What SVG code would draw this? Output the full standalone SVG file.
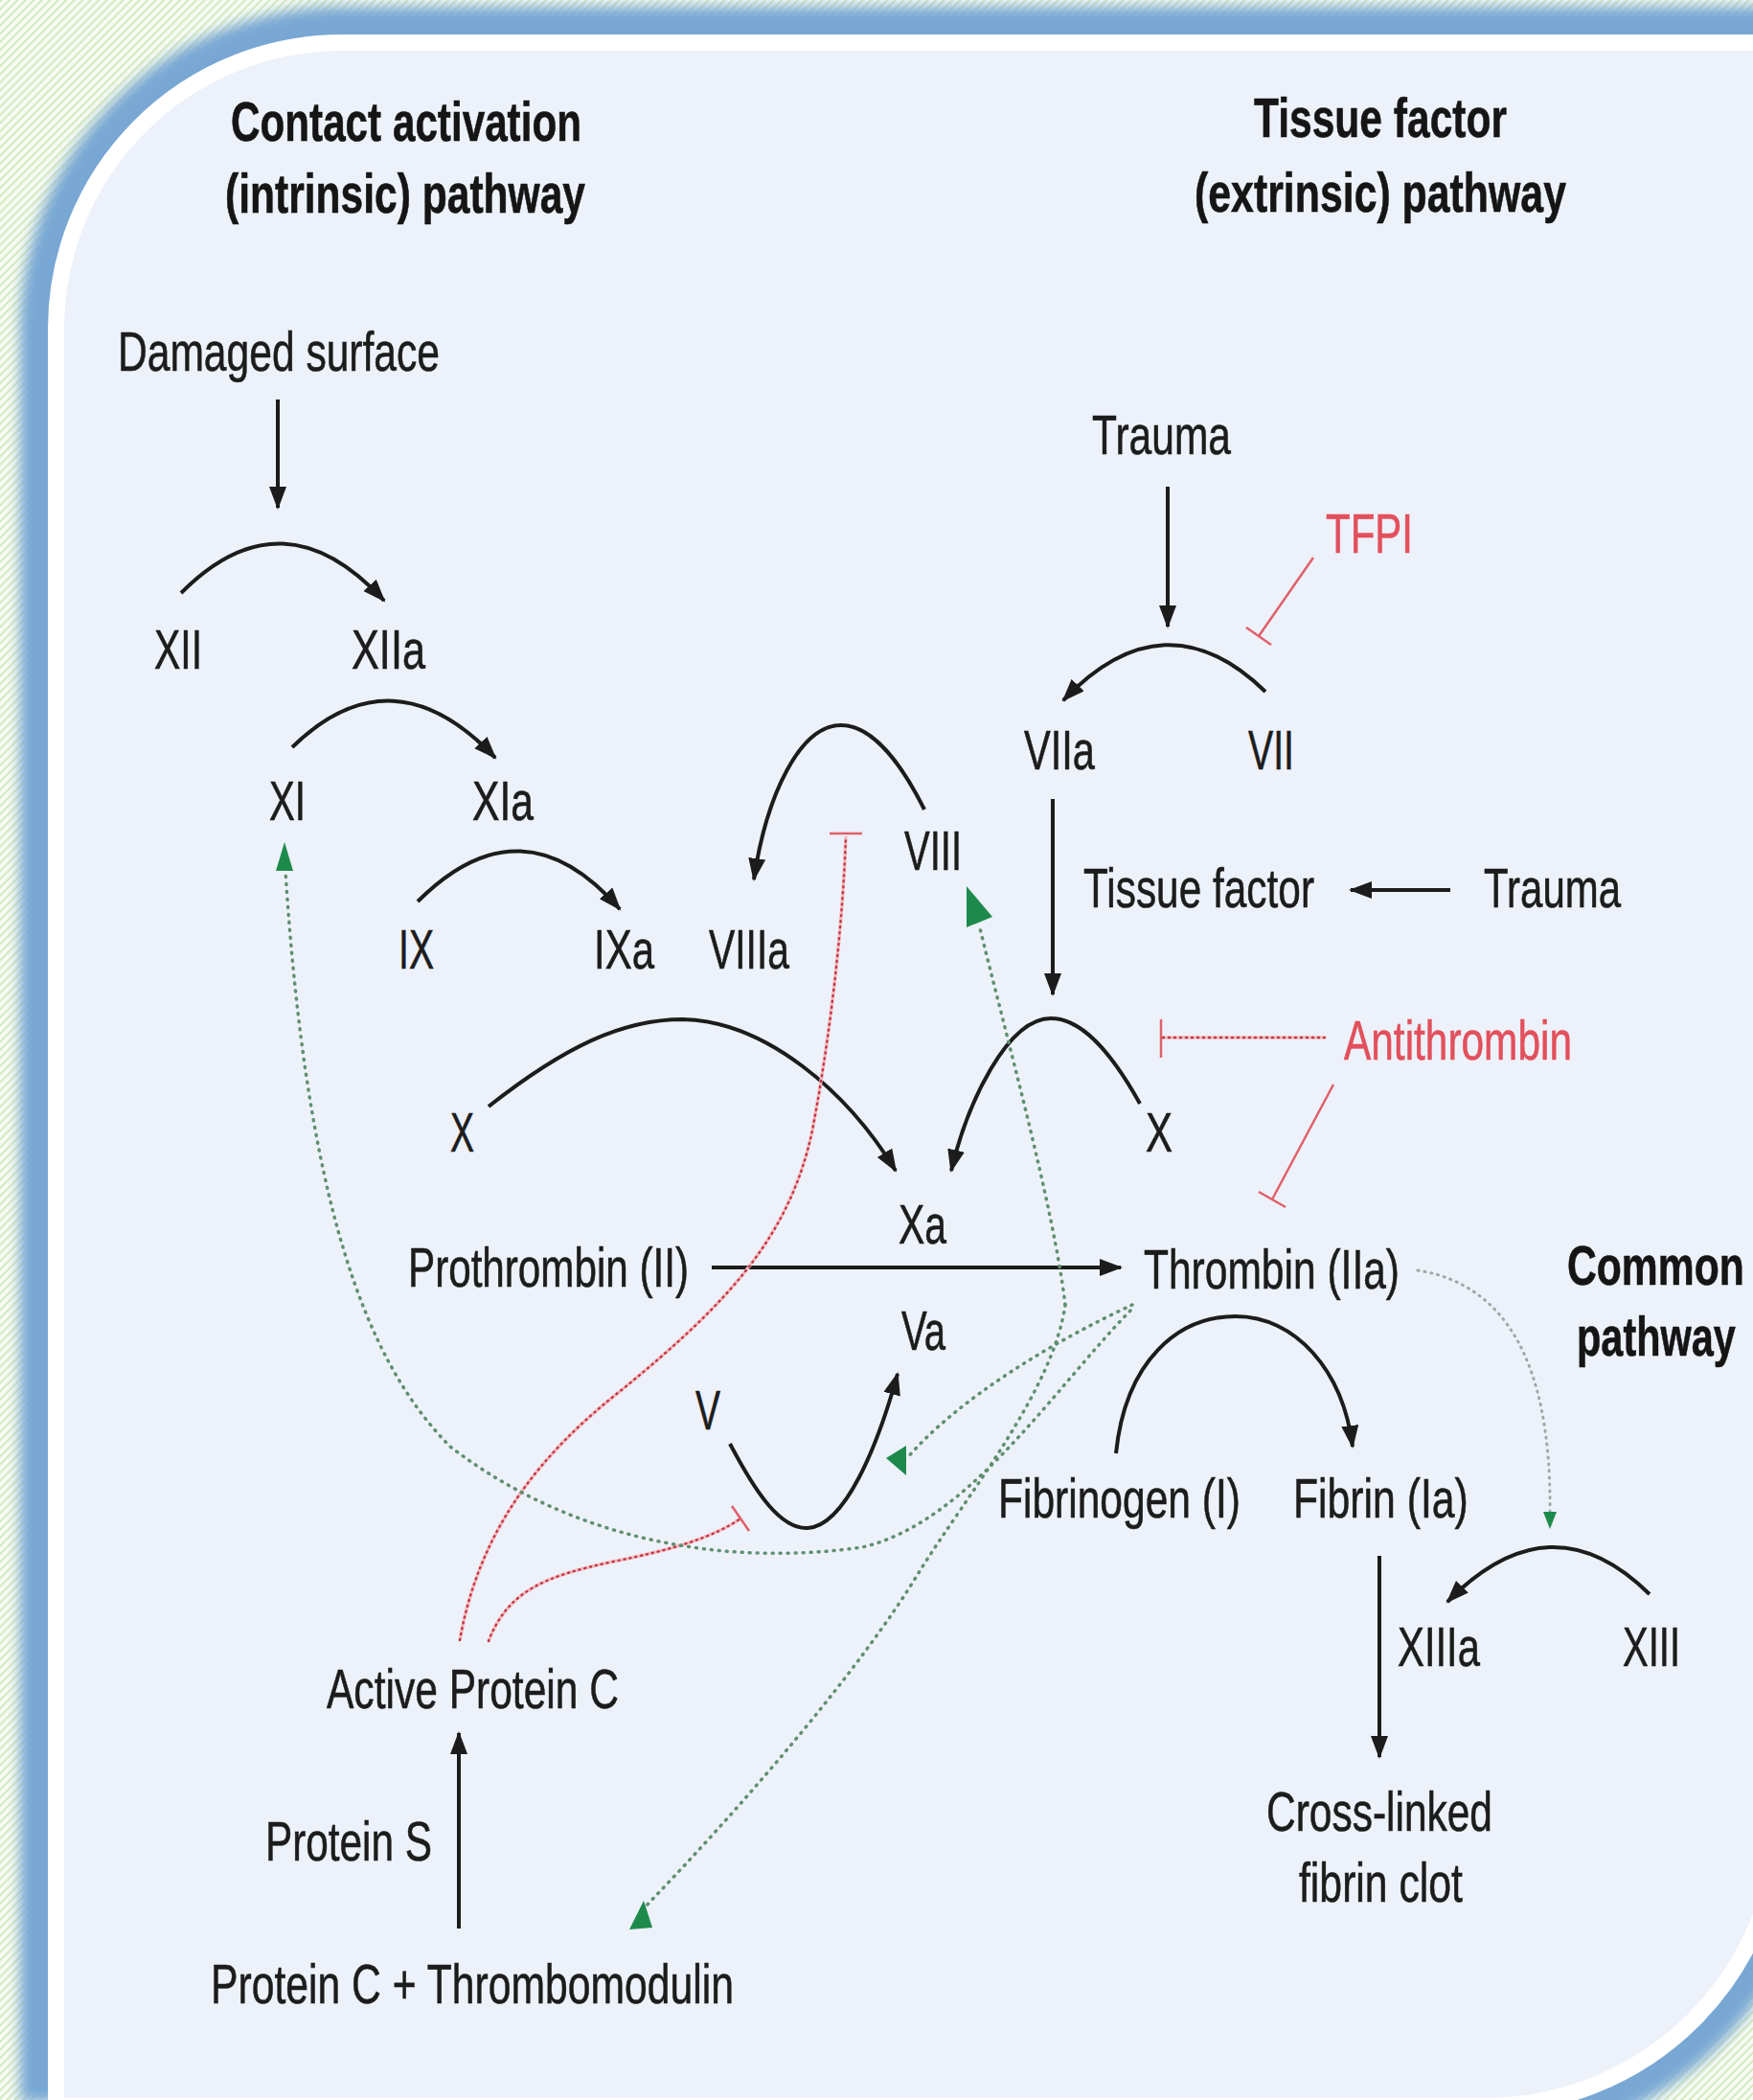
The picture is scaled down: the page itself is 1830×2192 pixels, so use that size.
<svg xmlns="http://www.w3.org/2000/svg" width="1830" height="2192" viewBox="0 0 1830 2192">
<defs>
  <pattern id="stripes" width="6" height="6" patternUnits="userSpaceOnUse" patternTransform="rotate(45)">
    <rect width="6" height="6" fill="#f7fbf2"/>
    <rect width="2" height="6" fill="#d3eabf"/>
  </pattern>
  <filter id="glow" x="-5%" y="-5%" width="110%" height="110%">
    <feGaussianBlur stdDeviation="7"/>
  </filter>
  <marker id="ah" markerUnits="userSpaceOnUse" markerWidth="26" markerHeight="20" refX="22" refY="9" orient="auto">
    <path d="M0,0 L24,9 L0,18 Z" fill="#1c1c1c"/>
  </marker>
  <path id="panel" d="M67,2194 L67,343 A290,290 0 0 1 357,53 L1850,53 L1850,1890 A300,300 0 0 1 1550,2190 L67,2190 Z"/>
</defs>
<style>
  .lbl { font-family: "Liberation Sans", Arial, Helvetica, sans-serif; font-size: 58px; fill: #1c1c1c; stroke: #1c1c1c; stroke-width: 0.6; }
  .ttl { font-weight: bold; fill: #151515; stroke: #151515; }
  .red { fill: #e2505c; stroke: #e2505c; }
  .arw { fill: none; stroke: #1c1c1c; stroke-width: 4; marker-end: url(#ah); }
  .inh { fill: none; stroke: #e0606a; stroke-width: 2.5; }
  .inhbase { fill: none; stroke: #f3bcc0; stroke-width: 3.5; }
  .inhdot { fill: none; stroke: #c23848; stroke-width: 2.5; stroke-dasharray: 1 5; stroke-linecap: round; }
  .grn { fill: none; stroke: #5f8f70; stroke-width: 3.5; stroke-dasharray: 1 7; stroke-linecap: round; }
  .gry { fill: none; stroke: #9aaaa4; stroke-width: 3; stroke-dasharray: 1 6; stroke-linecap: round; }
  .gah { fill: #1d8a4c; }
</style>

<!-- background -->
<g id="background">
  <rect x="0" y="0" width="1830" height="2192" fill="url(#stripes)"/>
  <use href="#panel" fill="none" stroke="#78a7d4" stroke-width="92" filter="url(#glow)"/>
  <use href="#panel" fill="none" stroke="#ffffff" stroke-width="34"/>
  <use href="#panel" fill="#edf1f9"/>
</g>

<!-- connectors -->
<g id="connectors">
  <!-- black activation arrows -->
  <path class="arw" d="M290,417 L290,530"/>
  <path class="arw" d="M189,619 Q295,512 401,627"/>
  <path class="arw" d="M305,780 Q410,678 517,791"/>
  <path class="arw" d="M436,941 Q545,832 647,949"/>
  <path class="arw" d="M965,845 C935,785 905,757 878,757 C835,757 800,830 787,918"/>
  <path class="arw" d="M1321,722 Q1216,620 1110,731"/>
  <path class="arw" d="M1219,508 L1219,654"/>
  <path class="arw" d="M1514,929 L1410,929"/>
  <path class="arw" d="M1099,834 L1099,1038"/>
  <path class="arw" d="M1190,1152 C1150,1080 1120,1063 1097,1063 C1052,1063 1010,1150 993,1222"/>
  <path class="arw" d="M510,1155 C590,1092 650,1064 713,1064 C800,1066 885,1140 935,1222"/>
  <path class="arw" d="M743,1323 L1170,1323"/>
  <path class="arw" d="M762,1507 C790,1560 815,1596 843,1595 C882,1593 916,1510 937,1434"/>
  <path class="arw" d="M1165,1517 C1175,1420 1230,1374 1290,1374 C1352,1374 1402,1430 1412,1510"/>
  <path class="arw" d="M1440,1624 L1440,1834"/>
  <path class="arw" d="M1722,1664 Q1619,1562 1511,1672"/>
  <path class="arw" d="M479,2013 L479,1809"/>

  <!-- red inhibition -->
  <path class="inh" d="M1371,582 L1314,664 M1301,655 L1327,673"/>
  <path class="inhbase" d="M1383,1083 L1212,1083"/>
  <path class="inhdot" d="M1383,1083 L1212,1083"/>
  <path class="inh" d="M1212,1064 L1212,1104"/>
  <path class="inh" d="M1392,1132 L1328,1252 M1314,1244 L1342,1260"/>
  <path class="inhbase" d="M480,1712 C500,1600 560,1520 650,1450 C760,1360 825,1290 848,1180 C868,1075 880,960 883,873"/>
  <path class="inhdot" d="M480,1712 C500,1600 560,1520 650,1450 C760,1360 825,1290 848,1180 C868,1075 880,960 883,873"/>
  <path class="inh" d="M866,870 L900,870"/>
  <path class="inhbase" d="M510,1713 C530,1660 570,1645 640,1630 C700,1618 745,1605 773,1585"/>
  <path class="inhdot" d="M510,1713 C530,1660 570,1645 640,1630 C700,1618 745,1605 773,1585"/>
  <path class="inh" d="M764,1572 L782,1598"/>

  <!-- green thrombin feedback -->
  <path class="grn" d="M1180,1368 C1100,1450 1010,1590 900,1615 C760,1635 600,1610 470,1510 C380,1420 320,1250 298,910"/>
  <path class="grn" d="M1182,1362 C1100,1400 1000,1460 947,1522"/>
  <path class="grn" d="M1112,1362 C1100,1260 1050,1080 1022,965"/>
  <path class="grn" d="M1112,1362 C1100,1450 1010,1560 960,1640 C900,1740 780,1880 672,1992"/>
  <path class="gry" d="M1480,1326 C1570,1340 1620,1420 1618,1580"/>
  <polygon class="gah" points="288,909 306,909 297,879"/>
  <polygon class="gah" points="1009,925 1036,957 1009,968"/>
  <polygon class="gah" points="925,1522 946,1509 946,1540"/>
  <polygon class="gah" points="657,2014 681,2012 672,1984"/>
  <polygon class="gah" points="1611,1578 1625,1578 1618,1596"/>
</g>

<!-- titles -->
<g id="title-intrinsic">
  <text class="lbl ttl" x="241" y="147" textLength="366" lengthAdjust="spacingAndGlyphs">Contact activation</text>
  <text class="lbl ttl" x="235" y="222" textLength="376" lengthAdjust="spacingAndGlyphs">(intrinsic) pathway</text>
</g>
<g id="title-extrinsic">
  <text class="lbl ttl" x="1309" y="143" textLength="264" lengthAdjust="spacingAndGlyphs">Tissue factor</text>
  <text class="lbl ttl" x="1247" y="221" textLength="388" lengthAdjust="spacingAndGlyphs">(extrinsic) pathway</text>
</g>
<g id="title-common">
  <text class="lbl ttl" transform="translate(1636,1341) scale(0.736,1)" x="0" y="0" textLength="251" lengthAdjust="spacingAndGlyphs">Common</text>
  <text class="lbl ttl" transform="translate(1646,1415) scale(0.715,1)" x="0" y="0" textLength="232" lengthAdjust="spacingAndGlyphs">pathway</text>
</g>

<!-- nodes -->
<g id="n-damaged"><text class="lbl" x="123" y="387" textLength="336" lengthAdjust="spacingAndGlyphs">Damaged surface</text></g>
<g id="n-xii"><text class="lbl" x="161" y="698" textLength="50" lengthAdjust="spacingAndGlyphs">XII</text></g>
<g id="n-xiia"><text class="lbl" x="367" y="698" textLength="77" lengthAdjust="spacingAndGlyphs">XIIa</text></g>
<g id="n-xi"><text class="lbl" x="281" y="856" textLength="38" lengthAdjust="spacingAndGlyphs">XI</text></g>
<g id="n-xia"><text class="lbl" x="493" y="856" textLength="64" lengthAdjust="spacingAndGlyphs">XIa</text></g>
<g id="n-ix"><text class="lbl" x="416" y="1011" textLength="37" lengthAdjust="spacingAndGlyphs">IX</text></g>
<g id="n-ixa"><text class="lbl" x="620" y="1011" textLength="63" lengthAdjust="spacingAndGlyphs">IXa</text></g>
<g id="n-viiia"><text class="lbl" x="740" y="1011" textLength="84" lengthAdjust="spacingAndGlyphs">VIIIa</text></g>
<g id="n-viii"><text class="lbl" x="944" y="908" textLength="60" lengthAdjust="spacingAndGlyphs">VIII</text></g>
<g id="n-viia"><text class="lbl" x="1069" y="803" textLength="74" lengthAdjust="spacingAndGlyphs">VIIa</text></g>
<g id="n-vii"><text class="lbl" x="1303" y="803" textLength="48" lengthAdjust="spacingAndGlyphs">VII</text></g>
<g id="n-trauma1"><text class="lbl" x="1140" y="474" textLength="145" lengthAdjust="spacingAndGlyphs">Trauma</text></g>
<g id="n-tfpi"><text class="lbl red" x="1384" y="577" textLength="91" lengthAdjust="spacingAndGlyphs">TFPI</text></g>
<g id="n-tissuefactor"><text class="lbl" x="1131" y="947" textLength="241" lengthAdjust="spacingAndGlyphs">Tissue factor</text></g>
<g id="n-trauma2"><text class="lbl" x="1549" y="947" textLength="143" lengthAdjust="spacingAndGlyphs">Trauma</text></g>
<g id="n-antithrombin"><text class="lbl red" x="1403" y="1106" textLength="238" lengthAdjust="spacingAndGlyphs">Antithrombin</text></g>
<g id="n-x1"><text class="lbl" x="470" y="1202" textLength="25" lengthAdjust="spacingAndGlyphs">X</text></g>
<g id="n-x2"><text class="lbl" x="1196" y="1202" textLength="28" lengthAdjust="spacingAndGlyphs">X</text></g>
<g id="n-xa"><text class="lbl" x="938" y="1298" textLength="50" lengthAdjust="spacingAndGlyphs">Xa</text></g>
<g id="n-prothrombin"><text class="lbl" x="426" y="1343" textLength="293" lengthAdjust="spacingAndGlyphs">Prothrombin (II)</text></g>
<g id="n-thrombin"><text class="lbl" x="1194" y="1345" textLength="267" lengthAdjust="spacingAndGlyphs">Thrombin (IIa)</text></g>
<g id="n-va"><text class="lbl" x="941" y="1409" textLength="46" lengthAdjust="spacingAndGlyphs">Va</text></g>
<g id="n-v"><text class="lbl" x="726" y="1492" textLength="26" lengthAdjust="spacingAndGlyphs">V</text></g>
<g id="n-fibrinogen"><text class="lbl" transform="translate(1042,1584) scale(0.733,1)" x="0" y="0" textLength="345" lengthAdjust="spacingAndGlyphs">Fibrinogen (I)</text></g>
<g id="n-fibrin"><text class="lbl" transform="translate(1350,1584) scale(0.737,1)" x="0" y="0" textLength="248" lengthAdjust="spacingAndGlyphs">Fibrin (Ia)</text></g>
<g id="n-xiiia"><text class="lbl" x="1459" y="1739" textLength="86" lengthAdjust="spacingAndGlyphs">XIIIa</text></g>
<g id="n-xiii"><text class="lbl" x="1694" y="1739" textLength="60" lengthAdjust="spacingAndGlyphs">XIII</text></g>
<g id="n-apc"><text class="lbl" x="341" y="1783" textLength="305" lengthAdjust="spacingAndGlyphs">Active Protein C</text></g>
<g id="n-proteins"><text class="lbl" x="277" y="1942" textLength="174" lengthAdjust="spacingAndGlyphs">Protein S</text></g>
<g id="n-pctm"><text class="lbl" x="220" y="2091" textLength="546" lengthAdjust="spacingAndGlyphs">Protein C + Thrombomodulin</text></g>
<g id="n-clot">
  <text class="lbl" x="1322" y="1911" textLength="236" lengthAdjust="spacingAndGlyphs">Cross-linked</text>
  <text class="lbl" x="1356" y="1985" textLength="171" lengthAdjust="spacingAndGlyphs">fibrin clot</text>
</g>
</svg>
